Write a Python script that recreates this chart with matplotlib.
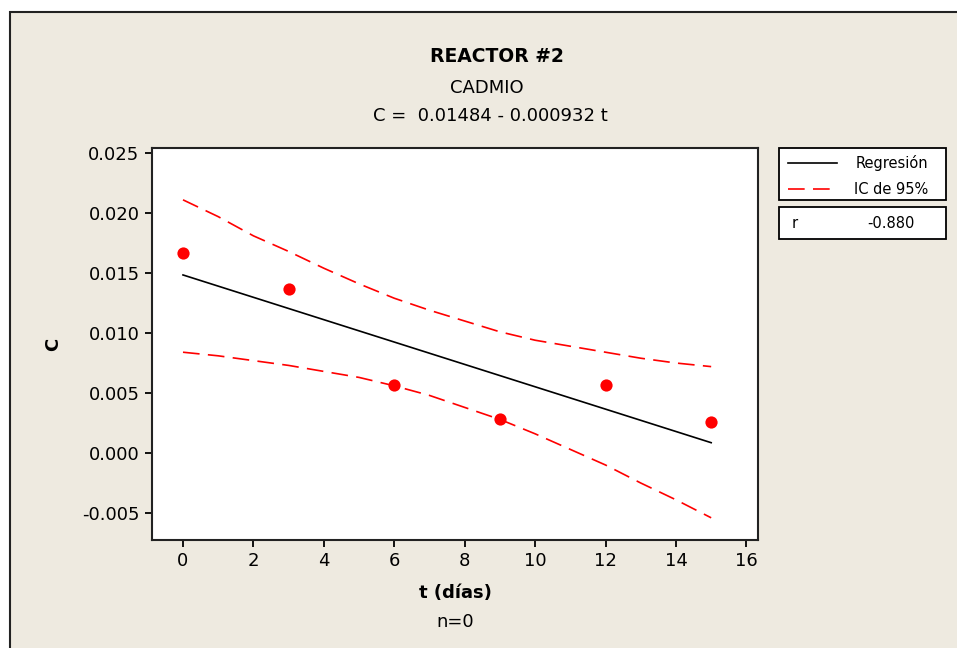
import matplotlib
matplotlib.use("Agg")
import matplotlib.pyplot as plt
from matplotlib.patches import Rectangle
from matplotlib.lines import Line2D

# ---- data ----
t_obs = [0, 3, 6, 9, 12, 15]
c_obs = [0.0167, 0.0137, 0.0057, 0.0028, 0.0057, 0.0026]

intercept = 0.01484
slope = -0.000932
t_fit = [0, 15]

t_ci = [0, 1, 2, 3, 4, 5, 6, 7, 8, 9, 10, 11, 12, 13, 14, 15]
ci_upper = [0.0211, 0.0197, 0.0181, 0.0168, 0.0154, 0.0141, 0.0129, 0.0119,
            0.0110, 0.0101, 0.0094, 0.0089, 0.0084, 0.0079, 0.0075, 0.0072]
ci_lower = [0.0084, 0.0081, 0.0077, 0.0073, 0.0068, 0.0063, 0.0056, 0.0048,
            0.0038, 0.0028, 0.0016, 0.0003, -0.0010, -0.0025, -0.0039, -0.0054]

x_ticks = [0, 2, 4, 6, 8, 10, 12, 14, 16]
y_ticks = [-0.005, 0.000, 0.005, 0.010, 0.015, 0.020, 0.025]
y_ticklabels = ["-0.005", "0.000", "0.005", "0.010", "0.015", "0.020", "0.025"]

title_main = "REACTOR #2"
subtitle = "CADMIO"
equation = "C =  0.01484 - 0.000932 t"
x_label = "t (días)"
y_label = "C"
footer = "n=0"
legend_labels = ["Regresión", "IC de 95%"]
r_label = "r"
r_value = "-0.880"

# ---- figure ----
W, H = 957, 648
plt.rcParams['font.family'] = ['DejaVu Sans']
fig = plt.figure(figsize=(W / 100, H / 100), dpi=100, facecolor="white")

def fx(px):
    return px / W

def fy(py):
    return 1 - py / H

BG = "#EEEAE0"
fig.patches.append(Rectangle((fx(10), fy(660)), fx(980), fy(12) - fy(660),
                             transform=fig.transFigure, facecolor=BG,
                             edgecolor="#222222", linewidth=1.5, zorder=-10))

ax = fig.add_axes([fx(152), fy(540), fx(758) - fx(152), fy(148) - fy(540)])
ax.set_zorder(1)
ax.set_facecolor("white")

red = "#FF0000"
DASH = (10, 5)
ax.plot(t_ci, ci_upper, color=red, lw=1.2, dashes=DASH)
ax.plot(t_ci, ci_lower, color=red, lw=1.2, dashes=DASH)
c_fit = [intercept + slope * t for t in t_fit]
ax.plot(t_fit, c_fit, color="black", lw=1.2)
ax.plot(t_obs, c_obs, "o", color=red, ms=8.8, mec="none", zorder=5)

ax.set_xlim(-0.88, 16.33)
ax.set_ylim(-0.00725, 0.02542)
ax.set_xticks(x_ticks)
ax.set_yticks(y_ticks)
ax.set_yticklabels(y_ticklabels)
ax.tick_params(direction="out", length=5, width=1.3, labelsize=13, pad=4,
               colors="black")
for s in ax.spines.values():
    s.set_linewidth(1.5)
    s.set_color("#222222")

ax.set_xlabel(x_label, fontsize=13, fontweight="bold", labelpad=10)
ax.set_ylabel(y_label, fontsize=13, fontweight="bold", labelpad=14)

fig.text(fx(497), fy(57), title_main, ha="center", va="center",
         fontsize=13.5, fontweight="bold")
fig.text(fx(487), fy(88), subtitle, ha="center", va="center", fontsize=13)
fig.text(fx(490), fy(116), equation, ha="center", va="center", fontsize=13)
fig.text(fx(455), fy(622), footer, ha="center", va="center", fontsize=13)

# legend boxes
fig.patches.append(Rectangle((fx(779), fy(200)), fx(946) - fx(779), fy(148) - fy(200),
                             transform=fig.transFigure, facecolor="white",
                             edgecolor="black", linewidth=1.3, zorder=3))
fig.patches.append(Rectangle((fx(779), fy(239)), fx(946) - fx(779), fy(207) - fy(239),
                             transform=fig.transFigure, facecolor="white",
                             edgecolor="black", linewidth=1.3, zorder=3))
fig.lines.append(Line2D([fx(788), fx(837)], [fy(163), fy(163)],
                        transform=fig.transFigure, color="black", lw=1.2, zorder=4))
fig.lines.append(Line2D([fx(788), fx(837)], [fy(189), fy(189)],
                        transform=fig.transFigure, color=red, lw=1.2,
                        dashes=DASH, zorder=4))
fig.text(fx(928), fy(163), legend_labels[0], ha="right", va="center", fontsize=10.5, zorder=5)
fig.text(fx(928), fy(189), legend_labels[1], ha="right", va="center", fontsize=10.5, zorder=5)
fig.text(fx(792), fy(223), r_label, ha="left", va="center", fontsize=10.5, zorder=5)
fig.text(fx(915), fy(223), r_value, ha="right", va="center", fontsize=10.5, zorder=5)

fig.savefig("out.png", dpi=100, facecolor=fig.get_facecolor())
